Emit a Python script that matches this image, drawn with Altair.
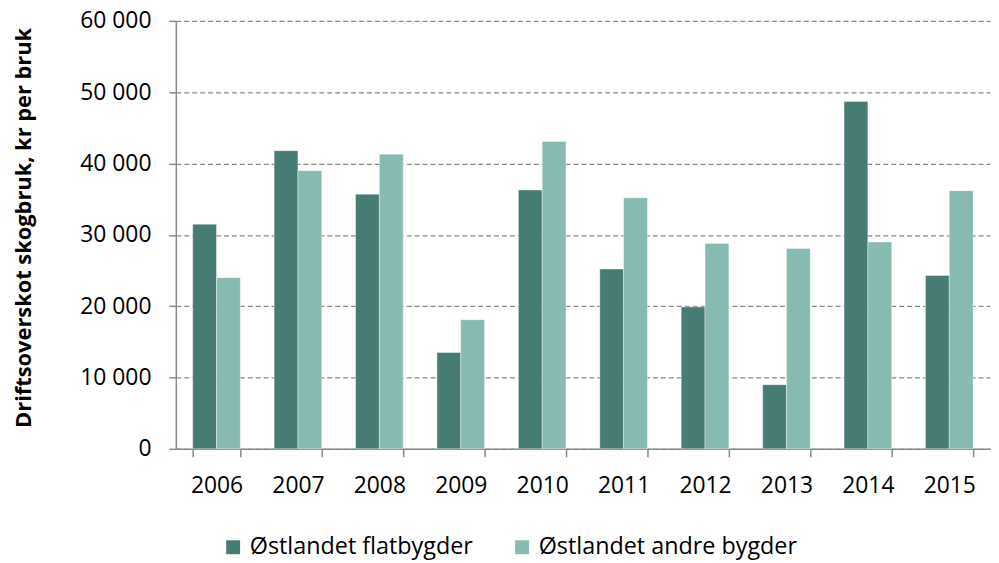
import altair as alt
import pandas as pd

years = ["2006", "2007", "2008", "2009", "2010", "2011", "2012", "2013", "2014", "2015"]
series = ["Østlandet flatbygder", "Østlandet andre bygder"]
flat = [31500, 41800, 35700, 13500, 36300, 25200, 19900, 9000, 48700, 24300]
andre = [24000, 39000, 41300, 18100, 43100, 35200, 28800, 28100, 29000, 36200]
colors = ["#467C73", "#87BAB1"]
y_ticks = [0, 10000, 20000, 30000, 40000, 50000, 60000]

rows = []
for i, yr in enumerate(years):
    rows.append({"year": yr, "serie": series[0], "value": flat[i]})
    rows.append({"year": yr, "serie": series[1], "value": andre[i]})
df = pd.DataFrame(rows)

FONT = "Open Sans"

chart = alt.Chart(df).mark_bar(
    stroke="#ffffff", strokeWidth=0.8, strokeOpacity=0.5
).encode(
    x=alt.X("year:N", sort=years,
            scale=alt.Scale(paddingInner=0.415, paddingOuter=0.2075),
            axis=alt.Axis(title=None, labelAngle=0, tickBand="extent",
                          tickSize=8, labelPadding=18, labelFontSize=23,
                          labelFont=FONT, labelColor="#000000",
                          domainColor="#888888", tickColor="#888888",
                          domainWidth=1.5, tickWidth=1.5, grid=False)),
    xOffset=alt.XOffset("serie:N", sort=series),
    y=alt.Y("value:Q",
            scale=alt.Scale(domain=[0, 60000], nice=False),
            axis=alt.Axis(values=y_ticks,
                          title="Driftsoverskot skogbruk, kr per bruk",
                          titleFont=FONT, titleFontSize=22, titleFontWeight="bold",
                          titleColor="#000000", titleAngle=-90,
                          titleX=-153, titleY=208, titleAlign="center",
                          titleBaseline="middle",
                          labelExpr="replace(format(datum.value, ',d'), ',', ' ')",
                          labelFontSize=23, labelFont=FONT, labelColor="#000000",
                          labelPadding=18, tickSize=7,
                          domainColor="#888888", tickColor="#888888",
                          domainWidth=1.5, tickWidth=1.5,
                          grid=True, gridColor="#888888", gridWidth=1.3,
                          gridDash=[5, 3])),
    color=alt.Color("serie:N", sort=series,
                    scale=alt.Scale(domain=series, range=colors),
                    legend=alt.Legend(title=None, orient="none",
                                      direction="horizontal",
                                      legendX=46, legendY=518,
                                      symbolType="square", symbolSize=196,
                                      symbolStrokeWidth=0,
                                      labelFont=FONT, labelFontSize=23.5,
                                      labelLimit=500,
                                      labelColor="#000000", labelOffset=5,
                                      columnPadding=37)),
).properties(
    width=820,
    height=431,
    autosize=alt.AutoSizeParams(type="none"),
    padding={"left": 169, "top": 11, "right": 1, "bottom": 112},
).configure_view(stroke=None)

chart.save("out.html", embed_options={"renderer": "svg", "actions": False})
